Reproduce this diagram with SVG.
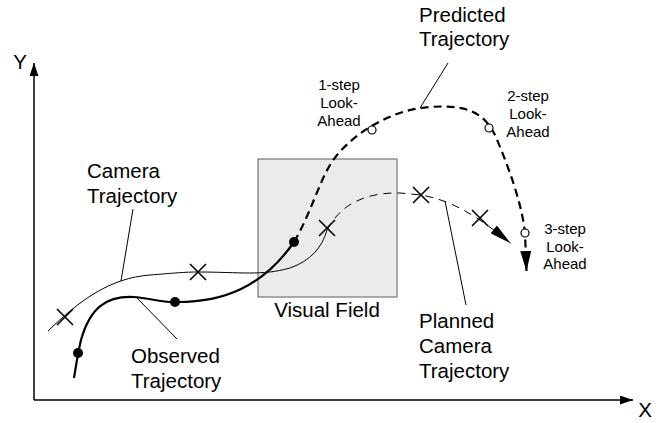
<svg xmlns="http://www.w3.org/2000/svg" width="666" height="423" viewBox="0 0 666 423">
<style>
text{font-family:"Liberation Sans",Arial,sans-serif;fill:#000}
.lbl{font-size:20.5px}
.sm{font-size:15px;text-anchor:middle}
.ax{stroke:#000;stroke-width:1.5;fill:none}
.thin{stroke:#000;stroke-width:1;fill:none}
.thick{stroke:#000;stroke-width:2.2;fill:none}
.dthick{stroke:#000;stroke-width:2.2;fill:none;stroke-dasharray:8 5}
.dthin{stroke:#000;stroke-width:1;fill:none;stroke-dasharray:8 6}
.xm{stroke:#000;stroke-width:1.6;fill:none}
.dot{fill:#000}
.oc{fill:#fff;stroke:#000;stroke-width:1.2}
</style>
<defs>
<marker id="ah" viewBox="0 0 13 9" refX="13" refY="4.5" markerWidth="13" markerHeight="9" markerUnits="userSpaceOnUse" orient="auto"><path d="M0,0 L13,4.5 L0,9 Z" fill="#000"/></marker>
<marker id="big" viewBox="0 0 20 11" refX="20" refY="5.5" markerWidth="20" markerHeight="11" markerUnits="userSpaceOnUse" orient="auto"><path d="M0,0 L20,5.5 L0,11 Z" fill="#000"/></marker>
<marker id="big2" viewBox="0 0 22 10" refX="22" refY="5" markerWidth="22" markerHeight="10" markerUnits="userSpaceOnUse" orient="auto"><path d="M0,0 L22,5 L0,10 Z" fill="#000"/></marker>
<g id="xmark"><path class="xm" d="M-8,-8 L8,8 M-8,8 L8,-8"/></g>
</defs>
<g id="visual-field">
<rect x="258" y="159" width="139" height="138" fill="#ebebeb" stroke="#777" stroke-width="1.2"/>
<text class="lbl" x="327" y="317" text-anchor="middle">Visual Field</text>
</g>
<g id="axes">
<line class="ax" x1="34" y1="400" x2="34" y2="63" marker-end="url(#ah)"/>
<line class="ax" x1="34" y1="400" x2="633" y2="400" marker-end="url(#ah)"/>
<text class="lbl" x="20" y="69" text-anchor="middle">Y</text>
<text class="lbl" x="645" y="417" text-anchor="middle">X</text>
</g>
<g id="connectors">
<path id="camera-trajectory" class="thin" d="M48,331 C80,300 110,278 150,275 C175,273 185,272 198,272 C240,272 262,276 290,268 C310,261 322,248 327,230"/>
<path id="observed-trajectory" class="thick" d="M74,378 C76,366 78,352 81,340 C90,308 106,296 133,297 C152,298 160,303 178,302 C222,302 262,288 294,242"/>
<path id="predicted-trajectory" class="dthick" d="M294,242 C310,215 318,185 330,165 C345,140 385,110 430,107 C470,104 485,115 495,135 C510,170 522,205 525,233 L526.5,271" marker-end="url(#big)"/>
<path id="planned-trajectory" class="dthin" d="M327,230 C340,205 365,192 400,193 L421,195 C450,200 475,214 510.7,243.3" marker-end="url(#big2)"/>
<line class="thin" x1="121" y1="281" x2="133" y2="209"/>
<line class="thin" x1="137" y1="298" x2="177" y2="339"/>
<line class="thin" x1="420" y1="108" x2="448" y2="63"/>
<line class="thin" x1="445" y1="201" x2="466" y2="305"/>
</g>
<g id="camera-marks">
<use href="#xmark" x="65" y="317"/>
<use href="#xmark" x="198" y="272"/>
<use href="#xmark" x="327" y="228"/>
<use href="#xmark" x="421" y="195"/>
<use href="#xmark" x="480" y="218"/>
</g>
<g id="observed-points">
<circle class="dot" cx="78" cy="353" r="5"/>
<circle class="dot" cx="175" cy="302" r="5"/>
<circle class="dot" cx="294" cy="242" r="5"/>
</g>
<g id="lookahead-points">
<circle class="oc" cx="372" cy="130" r="4"/>
<circle class="oc" cx="489" cy="128" r="4"/>
<circle class="oc" cx="525" cy="233" r="4"/>
</g>
<g id="label-camera"><text class="lbl" x="87" y="178">Camera</text><text class="lbl" x="87" y="203">Trajectory</text></g>
<g id="label-observed"><text class="lbl" x="131" y="363">Observed</text><text class="lbl" x="131" y="388">Trajectory</text></g>
<g id="label-predicted"><text class="lbl" x="419" y="22">Predicted</text><text class="lbl" x="419" y="46">Trajectory</text></g>
<g id="label-planned"><text class="lbl" x="419" y="328">Planned</text><text class="lbl" x="419" y="353">Camera</text><text class="lbl" x="419" y="378">Trajectory</text></g>
<g id="label-1step"><text class="sm" x="339" y="90">1-step</text><text class="sm" x="339" y="108">Look-</text><text class="sm" x="339" y="126">Ahead</text></g>
<g id="label-2step"><text class="sm" x="528" y="101">2-step</text><text class="sm" x="528" y="119">Look-</text><text class="sm" x="528" y="137">Ahead</text></g>
<g id="label-3step"><text class="sm" x="565" y="234">3-step</text><text class="sm" x="565" y="252">Look-</text><text class="sm" x="565" y="269">Ahead</text></g>
</svg>
